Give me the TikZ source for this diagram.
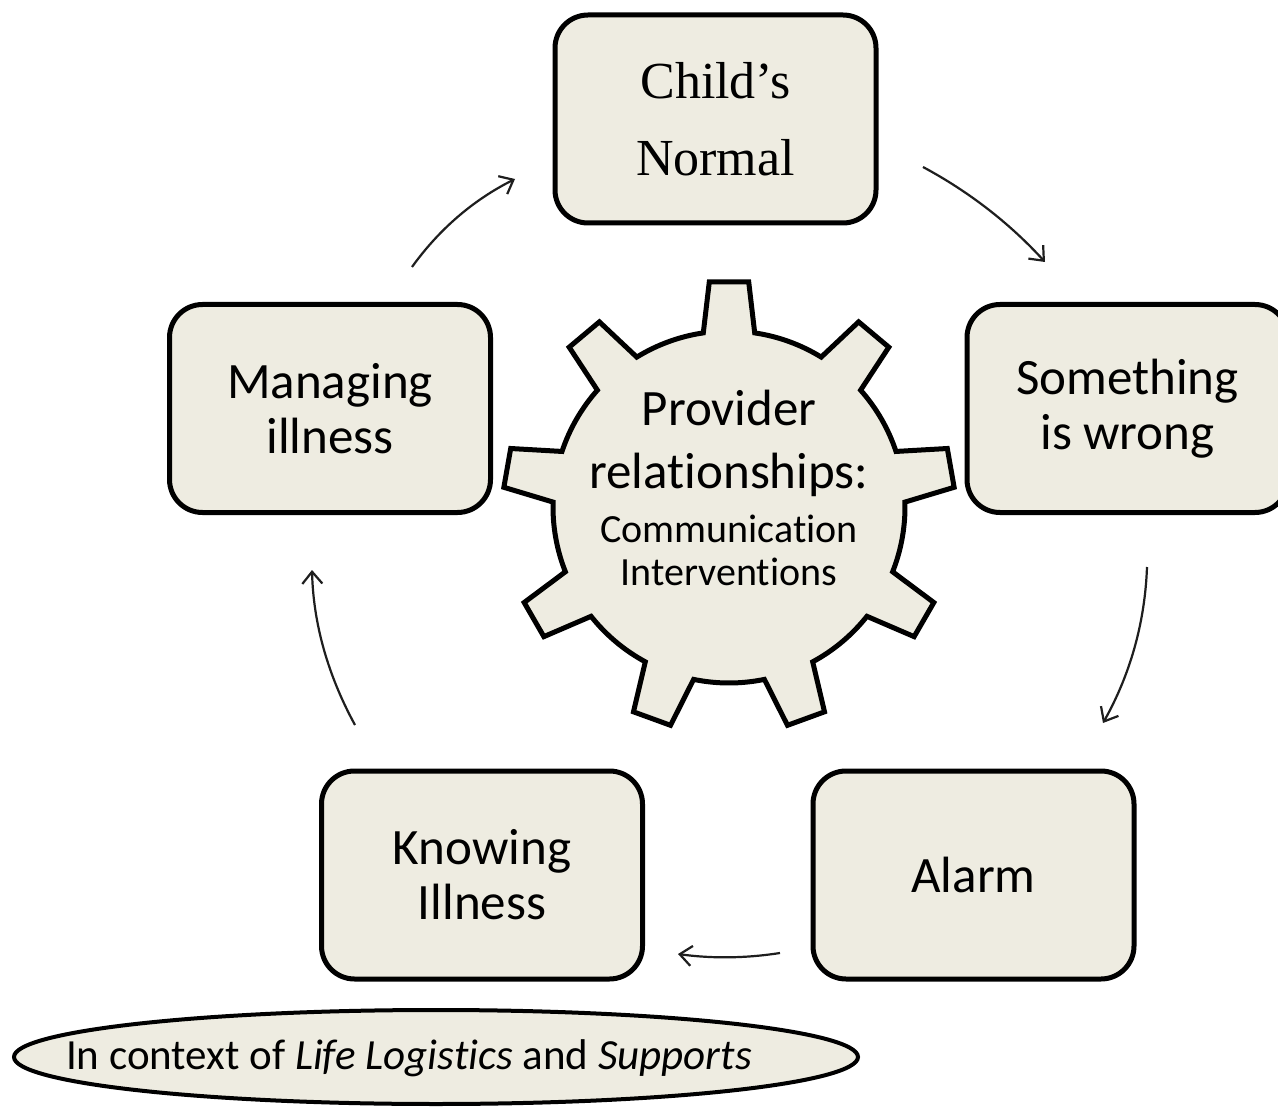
\documentclass[tikz,border=0pt]{standalone}
\usepackage{fontspec}
\setmainfont{Carlito}[RawFeature={-liga;-clig}]
\newfontfamily\cambriafont{Liberation Serif}
\usetikzlibrary{arrows.meta,shapes.geometric}
\definecolor{tanfill}{RGB}{238,236,225}
\definecolor{arrowgray}{RGB}{30,30,30}

\begin{document}
\begin{tikzpicture}[x=1pt,y=-1pt,
  stage/.style={draw=black, line width=5pt, fill=tanfill, rounded corners=33pt,
    minimum width=321pt, minimum height=208pt, align=center, inner sep=0pt,
    font=\fontsize{51}{55}\selectfont},
  flow/.style={draw=arrowgray, line width=2.2pt,
    -{Straight Barb[length=12pt,width=20pt,line width=2.2pt]}},
  geartext/.style={anchor=base, inner sep=0pt},
]
\useasboundingbox (0,0) rectangle (1278,1107);
\fill[white] (0,0) rectangle (1278,1107);

% central gear with nine tapered teeth
\begin{scope}[shift={(729,507)}]
  \draw[line width=5pt, fill=tanfill, line join=miter] (261.6:176)
    \foreach \k in {0,...,8} {
      -- ({270+40*\k-8.4}:176) -- ({270+40*\k-5}:226) -- ({270+40*\k+5}:226)
      -- ({270+40*\k+8.4}:176)
      arc[start angle={270+40*\k+8.4}, end angle={310+40*\k-8.4}, radius=176]
    } -- cycle;
\end{scope}

\node[geartext, font=\fontsize{51}{55}\selectfont] (gt1) at (729,425) {Provider};
\node[geartext, font=\fontsize{51}{55}\selectfont] (gt2) at (729,488) {relationships:};
\node[geartext, font=\fontsize{40}{43}\selectfont] (gt3) at (729,542) {Communication};
\node[geartext, font=\fontsize{40}{43}\selectfont] (gt4) at (729,585) {Interventions};

% the five stages of the cycle
\node[stage, font=\cambriafont\fontsize{52}{77}\selectfont] (child) at (715.5,119) {Child’s\\Normal};
\node[stage] (wrong) at (1127.5,408.5) {Something\\is wrong};
\node[stage] (alarm) at (973.5,875) {Alarm};
\node[stage] (knowing) at (482,875) {Knowing\\Illness};
\node[stage] (managing) at (330,408.5) {Managing\\illness};

% context ellipse
\node[ellipse, draw=black, line width=4pt, fill=tanfill, minimum width=844pt,
  minimum height=94pt, inner sep=0pt] (context) at (436,1057) {};
\node[anchor=base, inner sep=0pt, font=\fontsize{43}{47}\selectfont] (contexttext)
  at (409,1069) {In context of \textit{Life Logistics} and \textit{Supports}};

% cycle arrows
\coordinate (a1s) at (412,267);  \coordinate (a1e) at (515,179);
\coordinate (a2s) at (923,167);  \coordinate (a2e) at (1045,262);
\coordinate (a3s) at (1147,567); \coordinate (a3e) at (1103,723);
\coordinate (a4s) at (780,953);  \coordinate (a4e) at (678,954);
\coordinate (a5s) at (355,725);  \coordinate (a5e) at (312,570);

\draw[flow] (a1s) .. controls (439.3,229) and (473.7,199.7) .. (a1e);
\draw[flow] (a2s) .. controls (969,191.7) and (1009.7,223.3) .. (a2e);
\draw[flow] (a3s) .. controls (1145,622.3) and (1130.3,674.3) .. (a3e);
\draw[flow] (a4s) .. controls (746,958.3) and (712,958.7) .. (a4e);
\draw[flow] (a5s) .. controls (327.7,675) and (313.3,623.3) .. (a5e);
\end{tikzpicture}
\end{document}
